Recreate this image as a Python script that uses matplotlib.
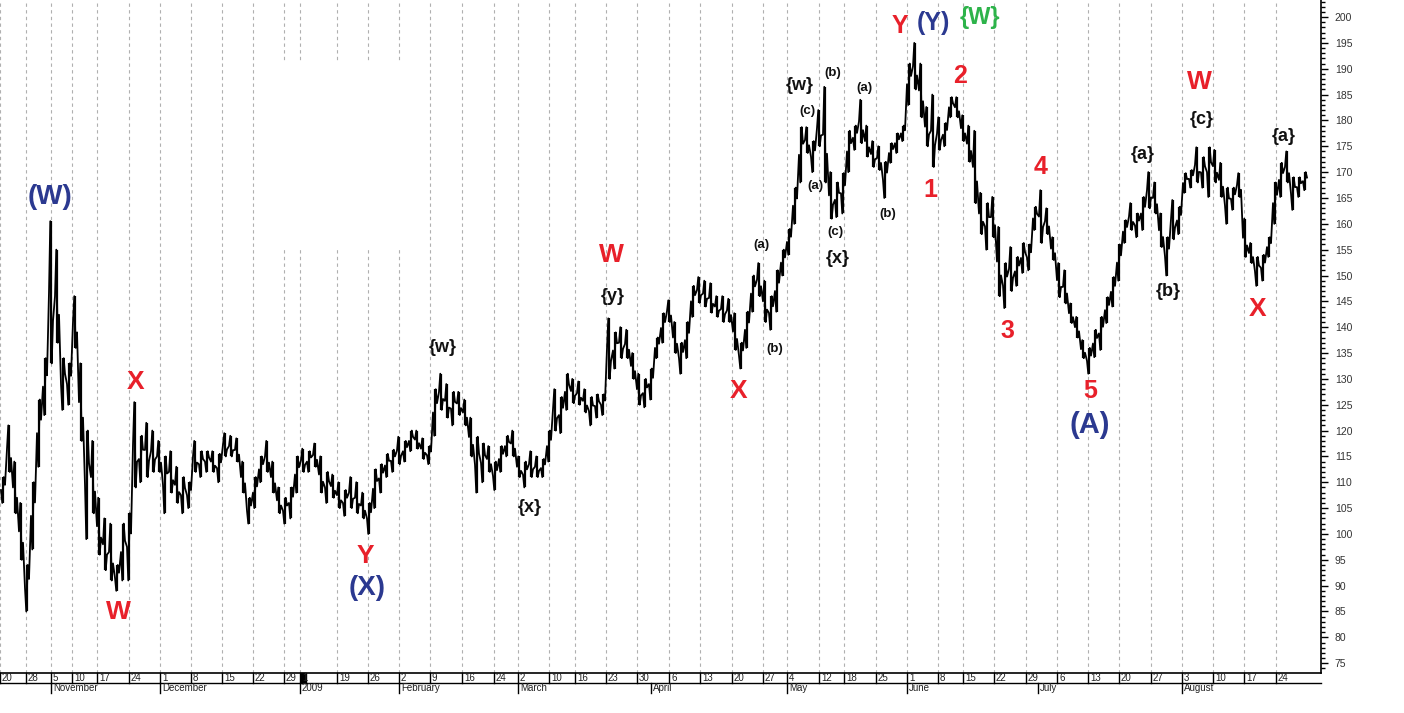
import numpy as np
import matplotlib.pyplot as plt
from matplotlib.patches import Rectangle
from matplotlib.ticker import MultipleLocator

plt.rcParams['font.family'] = ['Liberation Sans', 'DejaVu Sans']

# daily high / low, Oct 2008 -> Aug 2009
highs = [
    111, 121, 114, 106, 94, 110, 126, 134, 160.5, 155,
    134, 133, 146, 133, 120, 118, 107, 103, 102, 94,
    102, 104, 125.5, 119, 121.5, 120, 118, 115, 116, 113,
    111, 110, 118, 116, 116, 116, 115.5, 119.5, 119, 118.5,
    114, 107, 111, 115, 118, 114, 109, 107, 109, 115,
    116.5, 116, 117.5, 115, 112, 111.5, 110, 108.5, 111, 110,
    108, 106, 112.5, 113.5, 115.5, 116.3, 118.8, 118, 120, 120,
    118.5, 117, 128, 131, 129, 127.5, 127.5, 126, 122.5, 118.8,
    117.5, 117, 114, 117, 119, 120, 115, 114, 116, 115,
    114.5, 120, 128, 126.5, 131, 130, 129.5, 128, 126.5, 127,
    127, 141.7, 139, 140, 139.5, 135, 131, 130, 132, 138,
    142.7, 145.2, 141, 137, 141, 148, 149.7, 149, 148.5, 146,
    146, 145.5, 142.7, 137, 143, 150, 152.4, 149, 146, 151,
    155, 159, 167, 178.7, 178.7, 176, 182, 186.5, 170, 168,
    169.8, 178, 179, 184, 179, 176, 175, 172, 175.6, 177.5,
    179, 191, 195, 191, 182.6, 185, 180.6, 179.5, 184.5, 184.5,
    181, 179, 178, 166, 164, 165.2, 159.4, 152.4, 155.5, 153.6,
    156.3, 156, 163.3, 166.5, 163, 157.4, 152.4, 151, 144.6, 142,
    137.5, 136, 139.5, 142, 145.8, 149.7, 156, 160.7, 164, 162,
    165.2, 170, 168, 162, 157.4, 164.6, 163.3, 169.8, 170.4, 174.8,
    172.9, 174.8, 174.3, 171.8, 167, 167, 169.8, 161, 156.3, 153.6,
    154, 157.4, 168, 171.8, 174, 169, 169, 170,
]
lows = [
    106, 112, 104, 95, 85, 97, 113, 123, 133, 137,
    124, 125, 136, 118, 99, 104, 96, 93, 91, 89,
    91, 91, 109, 110, 111, 112, 112, 104, 108, 106,
    104, 105, 112, 111, 112, 112, 110, 115, 115, 114,
    108, 102, 105, 110, 112, 108, 104, 102, 103, 108,
    112, 112, 113, 108, 106, 107, 105, 103.5, 105, 104,
    103, 100, 105, 108, 111, 112, 113.5, 114, 116, 116.5,
    114.5, 113.5, 119, 124, 122.5, 121, 123, 121, 115, 108,
    110, 112, 108.5, 112, 115, 115, 111, 109, 111, 111,
    111, 114, 120, 119.5, 124, 125.3, 125, 123.5, 121, 122.5,
    123, 130, 132, 134, 134, 130, 125, 124.5, 126, 134,
    137, 141, 135, 131, 134, 142, 144.7, 144, 142.8, 142,
    141, 141, 135.6, 132, 136, 143, 146, 141, 139.5, 143,
    150, 154, 160, 168, 173.7, 170, 175, 168, 161, 161.3,
    162, 170, 174.3, 175.6, 173, 171, 170.4, 165, 171.8, 173.7,
    176, 183, 186, 180.6, 175, 171, 174.3, 175, 180.6, 180.6,
    176, 172, 164, 158, 155, 157.4, 146, 143.7, 147, 148,
    150.5, 151, 158.8, 156.3, 158, 153, 145.8, 144.6, 140.8, 138,
    134, 131, 134.2, 135.6, 140.8, 144, 149, 156.3, 158.8, 157.4,
    158.8, 163, 162, 155.5, 150, 157, 158, 166, 167, 168,
    167, 165.2, 168, 165.2, 160, 162.7, 165.2, 153.6, 152.4, 148,
    149, 153.6, 160, 165.2, 168, 162.7, 165.2, 166.5,
]

# weekly date ticks (position on the bar scale) and month labels
week_pos = [0, 26, 51, 72, 97, 129, 160, 191, 222, 253, 284, 300, 337, 368, 399,
            430, 462, 494, 518, 549, 575, 606, 637, 669, 700, 732, 763, 787, 819,
            844, 876, 907, 938, 963, 994, 1026, 1057, 1088, 1119, 1151, 1182,
            1213, 1244, 1276]
week_lbl = ['20', '28', '5', '10', '17', '24', '1', '8', '15', '22', '29', '1',
            '19', '26', '2', '9', '16', '24', '2', '10', '16', '23', '30', '6',
            '13', '20', '27', '4', '12', '18', '25', '1', '8', '15', '22', '29',
            '6', '13', '20', '27', '3', '10', '17', '24']
month_pos = [51, 160, 300, 399, 518, 651, 787, 907, 1038, 1182]
month_lbl = ['November', 'December', '2009', 'February', 'March', 'April',
             'May', 'June', 'July', 'August']

RED = '#e8202a'
BLUE = '#2b3990'
GREEN = '#2db34a'
BLK = '#111111'
# wave labels: text, x, price, colour, size
waves = [
    ('(W)', 50, 165.2, BLUE, 20), ('W', 118, 84.9, RED, 19), ('X', 136, 129.4, RED, 19),
    ('Y', 365, 95.7, RED, 19), ('(X)', 367, 89.5, BLUE, 20), ('{w}', 443, 136, BLK, 13),
    ('{x}', 530, 105.2, BLK, 13), ('W', 611, 154, RED, 19), ('{y}', 613, 146, BLK, 13),
    ('X', 739, 127.6, RED, 19), ('(a)', 761, 155.9, BLK, 9.5), ('(b)', 775, 135.8, BLK, 9.5),
    ('{w}', 800, 186.8, BLK, 13), ('(c)', 807, 181.8, BLK, 9.5), ('(a)', 815, 167.3, BLK, 9.5),
    ('(b)', 833, 189.2, BLK, 9.5), ('(c)', 835, 158.4, BLK, 9.5), ('{x}', 838, 153.2, BLK, 13),
    ('(a)', 864, 186.3, BLK, 9.5), ('(b)', 888, 161.9, BLK, 9.5), ('Y', 900, 198.3, RED, 18),
    ('(Y)', 933, 198.8, BLUE, 18), ('{W}', 980, 200, GREEN, 17), ('2', 960, 188.6, RED, 18),
    ('1', 930, 166.5, RED, 18), ('3', 1007, 139.2, RED, 18), ('4', 1041, 171, RED, 18),
    ('5', 1090, 127.6, RED, 18), ('(A)', 1090, 121, BLUE, 21), ('{a}', 1143, 173.5, BLK, 13),
    ('{b}', 1168, 147, BLK, 13), ('W', 1199, 187.4, RED, 19), ('{c}', 1202, 180.1, BLK, 13),
    ('X', 1258, 143.5, RED, 19), ('{a}', 1284, 176.8, BLK, 13),
]

fig = plt.figure(figsize=(14.04, 7.13), dpi=100)
ax = fig.add_axes([0, 40 / 713, 1321 / 1404, 673 / 713])

x = 3 + 6 * np.arange(len(highs))
hi = np.array(highs)
lo = np.array(lows)
mid = (hi + lo) / 2
ax.vlines(x, lo, hi, color='black', lw=1.6, zorder=3)

# zigzag through the extremes so the trace reads like dense intraday bars
zx, zy = [], []
for i in range(len(x)):
    up = mid[min(i + 1, len(x) - 1)] >= mid[i]
    a, b = (lo[i], hi[i]) if up else (hi[i], lo[i])
    zx += [x[i] - 2, x[i] - 0.7, x[i] + 0.7, x[i] + 2]
    zy += [mid[i], a, b, mid[i] + (b - mid[i]) * 0.4]
ax.plot(zx, zy, color='black', lw=1.3, zorder=3)

for p in week_pos:
    ax.axvline(p, color='#b0b0b0', lw=0.8, ls=(0, (3, 3)), zorder=0)
# blank patch in the upper left where the grid is wiped out
ax.add_patch(Rectangle((268, 155.5), 152, 36, facecolor='white', edgecolor='none', zorder=1))

for t, xx, yy, c, s in waves:
    ax.text(xx, yy, t, color=c, fontsize=s, fontweight='bold', ha='center', va='center', zorder=4)

ax.set_xlim(0, 1321)
ax.set_ylim(73.1, 203.3)
ax.yaxis.tick_right()
ax.yaxis.set_major_locator(MultipleLocator(5))
ax.yaxis.set_minor_locator(MultipleLocator(1))
ax.tick_params(axis='y', which='major', length=5, width=1, labelsize=7.5, pad=5,
               colors='black', labelcolor='#333333')
ax.tick_params(axis='y', which='minor', length=3, width=1)
ax.set_xticks([])
for s in ['top', 'left']:
    ax.spines[s].set_visible(False)
ax.spines['bottom'].set_linewidth(1.2)
ax.spines['right'].set_linewidth(1.2)

# date strip under the chart
tr = ax.get_xaxis_transform()
row = 10 / 673
ax.plot([0, 1321], [-row, -row], transform=tr, color='black', lw=1, clip_on=False)
for p, l in zip(week_pos, week_lbl):
    ax.plot([p, p], [0, -row], transform=tr, color='black', lw=1, clip_on=False)
    ax.text(p + 2, -row / 2, l, transform=tr, fontsize=7, ha='left', va='center', color='#222222')
ax.fill_between([301, 306], [0, 0], [-row, -row], transform=tr, color='black', clip_on=False)
for p, l in zip(month_pos, month_lbl):
    ax.plot([p, p], [-row, -row - 10 / 673], transform=tr, color='black', lw=1, clip_on=False)
    ax.text(p + 2, -row - 5 / 673, l, transform=tr, fontsize=7, ha='left', va='center', color='#222222')

fig.savefig('out.png', dpi=100)
